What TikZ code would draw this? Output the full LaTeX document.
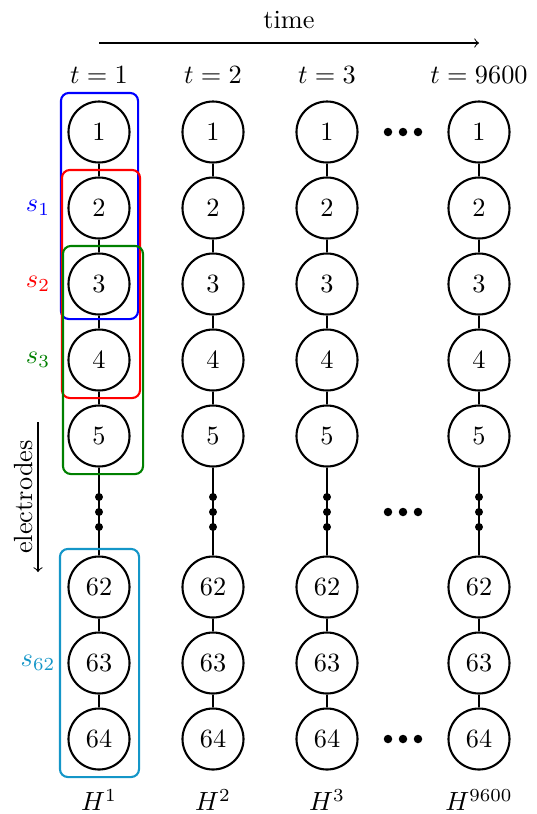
\documentclass[tikz,border=0pt]{standalone}
\usetikzlibrary{fit}
\definecolor{segblue}{RGB}{0,0,255}
\definecolor{segred}{RGB}{255,0,0}
\definecolor{seggreen}{RGB}{0,128,0}
\definecolor{segcyan}{RGB}{20,150,200}
\begin{document}
\begin{tikzpicture}[x=0.38pt,y=-0.38pt,
  electrode/.style={circle,draw,line width=0.8pt,minimum size={61*0.38pt},inner sep=0pt},
  link/.style={line width=0.8pt},
  chaindot/.style={circle,fill,inner sep=0pt,minimum size={8*0.38pt}},
  ellipsisdot/.style={circle,fill,inner sep=0pt,minimum size={8.5*0.38pt}},
  segbox/.style={draw,line width=0.8pt,rounded corners={8*0.38pt},inner xsep={7.5*0.38pt},inner ysep={6.5*0.38pt}},
  seglabel/.style={anchor=center}]
\useasboundingbox (0,0) rectangle (537,814);

% time axis
\node (timelbl) at (289,20) {time};
\coordinate (tstart) at (99,43);
\coordinate (tend) at (479,43);
\draw[->] (tstart) -- (tend);

% columns of electrodes
\foreach \c/\x/\t in {1/99/1,2/213/2,3/327/3,4/479/9600}{
  \node (t\c) at (\x,75) {$t=\t$};
  \foreach \r/\y in {1/132,2/208,3/284,4/360,5/436,62/587,63/663,64/739}{
    \node[electrode] (c\c-\r) at (\x,\y) {$\r$};
  }
  \draw[link] (c\c-1) -- (c\c-2);
  \draw[link] (c\c-2) -- (c\c-3);
  \draw[link] (c\c-3) -- (c\c-4);
  \draw[link] (c\c-4) -- (c\c-5);
  \draw[link] (c\c-5) -- (c\c-62);
  \draw[link] (c\c-62) -- (c\c-63);
  \draw[link] (c\c-63) -- (c\c-64);
  \node[chaindot] (dA\c) at (\x,497) {};
  \node[chaindot] (dB\c) at (\x,512) {};
  \node[chaindot] (dC\c) at (\x,527) {};
  \node (h\c) at (\x,800) {$H^{\t}$};
}

% ellipses between t=3 and t=9600
\foreach \y/\n in {132/a,512/b,739/c}{
  \node[ellipsisdot] (e\n1) at (388,\y) {};
  \node[ellipsisdot] (e\n2) at (403,\y) {};
  \node[ellipsisdot] (e\n3) at (418,\y) {};
}

% sliding segments
\node[segbox,segblue,fit=(c1-1)(c1-3),inner xsep={7*0.38pt},xshift={0.5*0.38pt},inner ysep={5.5*0.38pt},yshift={2*0.38pt}] (seg1) {};
\node[segbox,segred,fit=(c1-2)(c1-4),inner xsep={7.5*0.38pt},xshift={2*0.38pt}] (seg2) {};
\node[segbox,seggreen,fit=(c1-3)(c1-5),inner xsep={8.5*0.38pt},xshift={4*0.38pt}] (seg3) {};
\node[segbox,segcyan,fit=(c1-62)(c1-64),inner xsep={8*0.38pt},xshift={0.5*0.38pt}] (seg62) {};

\node[seglabel,text=segblue] (s1) at (38,208) {$s_1$};
\node[seglabel,text=segred] (s2) at (38,284) {$s_2$};
\node[seglabel,text=seggreen] (s3) at (38,360) {$s_3$};
\node[seglabel,text=segcyan] (s62) at (38,663) {$s_{62}$};

% electrode axis
\coordinate (estart) at (38,422);
\coordinate (eend) at (38,572);
\draw[->] (estart) -- (eend);
\node[rotate=90] (elbl) at (24,497) {electrodes};
\end{tikzpicture}
\end{document}
